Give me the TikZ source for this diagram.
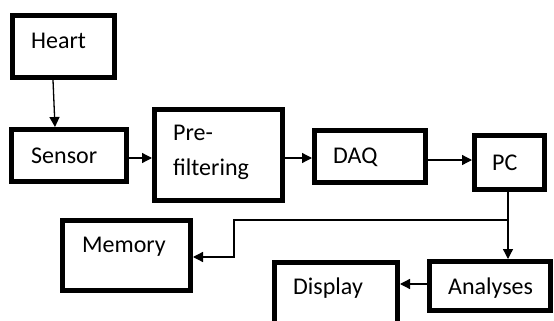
\documentclass[tikz,border=0pt]{standalone}
\usepackage{fontspec}
\setmainfont{Carlito}
\usetikzlibrary{arrows.meta}
\begin{document}
\begin{tikzpicture}[x=1pt,y=-1pt,
  blk/.style={draw=black,line width=5pt,inner sep=0pt,minimum width=#1},
  lbl/.style={anchor=west,inner sep=0pt,font=\fontsize{24}{35}\selectfont,text=black},
  arr/.style={line width=1.3pt,-{Triangle[length=10pt,width=10pt]}}]
\useasboundingbox (0,0) rectangle (554,321);
\clip (0,0) rectangle (554,321);
\fill[white] (0,0) rectangle (554,321);
% boxes
\node[blk=102pt,minimum height=62pt] (heart) at (63.5,46.5) {};
\node[blk=115pt,minimum height=52pt] (sensor) at (69,155.5) {};
\node[blk=128pt,minimum height=91pt] (prefilt) at (218.5,155) {};
\node[blk=111pt,minimum height=52pt] (daq) at (370,156.5) {};
\node[blk=70pt,minimum height=54pt] (pc) at (509.5,162.5) {};
\node[blk=128pt,minimum height=70pt] (memory) at (126.5,255.5) {};
\node[blk=121pt,minimum height=49pt] (analyses) at (490,286) {};
\node[blk=123pt,minimum height=80pt] (display) at (336,302.5) {};
% texts
\node[lbl] (theart) at (31,41) {Heart};
\node[lbl] (tsensor) at (31,156) {Sensor};
\node[lbl,anchor=north west,align=left] (tprefilt) at (173,125) {Pre-\\filtering};
\node[lbl] (tdaq) at (333,157) {DAQ};
\node[lbl] (tpc) at (492,163) {PC};
\node[lbl] (tmemory) at (82,247) {Memory};
\node[lbl] (tanalyses) at (448,288) {Analyses};
\node[lbl] (tdisplay) at (293,288) {Display};
% connectors
\draw[arr] ([xshift=-10.5pt]heart.south) -- ([xshift=-14pt]sensor.north);
\draw[arr] ([yshift=-2.5pt]sensor.east) -- ([yshift=-2.5pt]sensor.east -| prefilt.west);
\draw[arr] ([yshift=-3pt]prefilt.east) -- ([yshift=-3pt]prefilt.east -| daq.west);
\draw[arr] ([yshift=-3.5pt]daq.east) -- ([yshift=-3.5pt]daq.east -| pc.west);
\draw[arr] ([xshift=-1.5pt]pc.south) -- ([xshift=-1.5pt]pc.south |- analyses.north);
\coordinate (br) at ([xshift=-1.5pt]pc.south |- 0,220);
\coordinate (bend) at (234,257);
\draw[arr] (br) -| (bend) -- (bend -| memory.east);
\draw[arr] ([yshift=2pt]analyses.west) -- ([yshift=2pt]analyses.west -| display.east);
\end{tikzpicture}
\end{document}
